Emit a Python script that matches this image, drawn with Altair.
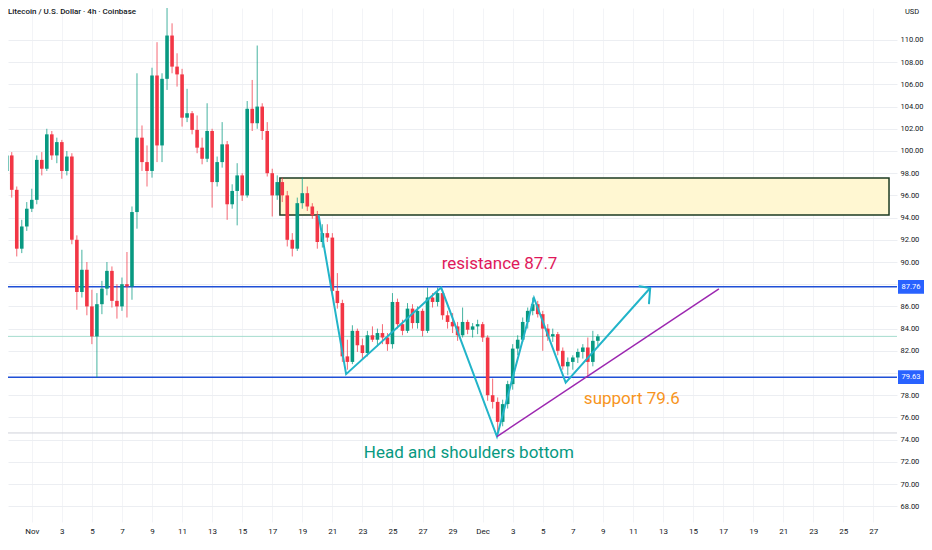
import altair as alt
import pandas as pd
import numpy as np

# ---- candle data (8h candles) ----
opens = [98.2, 99.6, 96.5, 91.2, 93.2, 94.8, 95.6, 99.2, 98.4, 101.5,
         99.6, 100.8, 98.2, 99.5, 92.0, 87.3, 89.3, 86.0, 83.3, 86.2,
         87.6, 89.2, 86.5, 86.0, 88.0, 87.8, 94.5, 101.2, 99.0, 98.2,
         106.8, 100.5, 106.5, 110.4, 107.6, 106.9, 103.0, 103.4, 101.9, 100.3,
         99.3, 101.8, 97.2, 99.0, 100.6, 95.2, 96.4, 97.8, 96.0, 103.8,
         102.5, 104.0, 101.8, 98.0, 96.0, 97.2, 96.0, 92.0, 91.2, 95.3,
         96.2, 95.0, 94.2, 91.8, 92.6, 92.2, 87.4, 86.3, 81.5, 81.0,
         83.8, 82.5, 81.8, 83.4, 83.0, 83.6, 83.2, 82.6, 86.4, 84.4,
         83.8, 85.8, 84.5, 85.6, 83.8, 86.8, 86.4, 87.2, 85.2, 84.6,
         84.2, 83.4, 84.6, 83.9, 84.2, 84.4, 83.2, 78.0, 77.4, 75.6,
         77.2, 79.0, 82.2, 83.0, 84.6, 85.6, 86.2, 85.3, 84.0, 83.3,
         83.5, 82.0, 80.6, 81.0, 81.4, 81.9, 82.3, 81.0, 82.9]
highs = [100.2, 99.9, 96.8, 93.8, 95.4, 96.6, 99.6, 99.9, 102.0, 101.8,
         101.2, 101.0, 100.0, 99.8, 92.4, 91.1, 90.0, 87.5, 87.2, 88.3,
         90.0, 89.6, 88.0, 88.6, 90.9, 95.0, 107.0, 102.3, 100.5, 107.5,
         109.8, 107.0, 113.6, 111.5, 108.8, 107.4, 105.6, 103.6, 103.2, 101.2,
         104.3, 102.0, 99.5, 102.6, 100.9, 97.0, 98.9, 98.0, 104.5, 106.4,
         109.5, 104.3, 102.6, 98.4, 97.8, 97.6, 96.4, 92.6, 95.8, 97.6,
         96.8, 95.3, 94.6, 93.4, 93.4, 92.6, 89.0, 86.6, 83.0, 84.3,
         84.0, 83.1, 83.8, 84.2, 84.0, 84.4, 83.6, 87.2, 86.7, 84.8,
         86.3, 86.2, 86.0, 85.8, 87.7, 87.2, 87.7, 87.5, 85.6, 85.4,
         84.6, 85.9, 84.8, 84.5, 84.8, 84.6, 83.4, 79.5, 77.8, 77.6,
         79.3, 82.6, 83.4, 85.0, 85.9, 86.8, 86.5, 85.6, 84.4, 84.0,
         83.7, 82.3, 81.4, 81.6, 82.2, 82.6, 83.2, 83.8, 83.5]
lows = [97.8, 95.8, 90.5, 90.8, 92.8, 94.5, 95.2, 97.8, 98.2, 99.2,
        98.9, 97.5, 97.8, 91.6, 85.7, 86.8, 85.2, 82.6, 79.6, 85.3,
        87.0, 85.9, 84.9, 85.6, 85.0, 86.6, 93.0, 98.2, 96.8, 97.6,
        99.0, 99.0, 105.5, 107.0, 105.8, 102.2, 102.6, 101.5, 99.8, 98.8,
        99.0, 94.9, 96.8, 98.5, 93.8, 94.8, 93.3, 95.5, 95.8, 101.8,
        102.0, 101.0, 97.7, 94.1, 95.6, 95.4, 91.4, 90.5, 91.0, 94.8,
        94.6, 93.9, 91.2, 91.3, 91.8, 87.0, 85.8, 81.0, 80.3, 80.8,
        81.9, 81.2, 81.5, 82.8, 82.4, 82.6, 82.0, 82.2, 84.0, 83.4,
        83.6, 84.0, 84.0, 83.3, 83.6, 85.9, 86.0, 84.8, 84.0, 83.6,
        82.9, 83.2, 83.5, 83.2, 83.5, 82.8, 77.5, 76.8, 74.4, 75.2,
        76.8, 78.5, 81.6, 82.8, 84.0, 85.2, 85.0, 82.0, 82.9, 82.8,
        81.6, 80.3, 79.8, 80.3, 80.9, 81.3, 79.6, 80.6, 82.3]
closes = [99.6, 96.5, 91.2, 93.2, 94.8, 95.6, 99.2, 98.4, 101.5, 99.6,
          100.8, 98.2, 99.5, 92.0, 87.3, 89.3, 86.0, 83.3, 86.2, 87.6,
          89.2, 86.5, 86.0, 88.0, 87.8, 94.5, 101.2, 99.0, 98.2, 106.8,
          100.5, 106.5, 110.4, 107.6, 106.9, 103.0, 103.4, 101.9, 100.3, 99.3,
          101.8, 97.2, 99.0, 100.6, 95.2, 96.4, 97.8, 96.0, 103.8, 102.5,
          104.0, 101.8, 98.0, 96.0, 97.2, 96.0, 92.0, 91.2, 95.3, 96.2,
          95.0, 94.2, 91.8, 92.6, 92.2, 87.4, 86.3, 81.5, 81.0, 83.8,
          82.5, 81.8, 83.4, 83.0, 83.6, 83.2, 82.6, 86.4, 84.4, 83.8,
          85.8, 84.5, 85.6, 83.8, 86.8, 86.4, 87.2, 85.2, 84.6, 84.2,
          83.4, 84.6, 83.9, 84.2, 84.4, 83.2, 78.0, 77.4, 75.6, 77.2,
          79.0, 82.2, 83.0, 84.6, 85.6, 86.2, 85.3, 84.0, 83.3, 83.5,
          82.0, 80.6, 81.0, 81.4, 81.9, 82.3, 81.0, 82.9, 83.3]

first_candle = "2025-10-30 08:00"
candle_hours = 8

# ---- axis ticks ----
tick_dates = ["2025-11-%02d" % d for d in range(1, 30, 2)] + ["2025-12-%02d" % d for d in range(1, 28, 2)]
tick_labels = ["Nov", "3", "5", "7", "9", "11", "13", "15", "17", "19", "21", "23", "25", "27", "29",
               "Dec", "3", "5", "7", "9", "11", "13", "15", "17", "19", "21", "23", "25", "27"]
price_ticks = list(range(68, 111, 2))
hidden_price_labels = [80, 88]   # covered by the level boxes

# ---- annotations ----
resistance = 87.76
support = 79.63
last_price = 83.3
head_level = 74.6
zone_start, zone_end = "2025-11-17 12:15", "2025-12-28 01:00"
zone_top, zone_bottom = 97.57, 94.23
pattern_times = ["2025-11-20 02:00", "2025-11-21 22:00", "2025-11-28 05:45", "2025-12-01 22:50",
                 "2025-12-04 10:00", "2025-12-06 12:40", "2025-12-12 03:35"]
pattern_prices = [94.23, 79.9, 87.7, 74.28, 86.76, 79.14, 87.66]
arrow_tip_time, arrow_tip_price = "2025-12-12 03:35", 87.66
arrow_arm_times = ["2025-12-11 10:35", "2025-12-12 01:40"]
arrow_arm_prices = [87.82, 86.28]
trend_times = ["2025-12-01 22:50", "2025-12-16 17:20"]
trend_prices = [74.28, 87.57]
notes = ["resistance 87.7", "support 79.6", "Head and shoulders bottom"]
note_times = ["2025-12-02 03:00", "2025-12-10 22:20", "2025-11-30 02:00"]
note_prices = [89.86, 77.70, 72.79]
note_colors = ["#e0185a", "#f7941d", "#089981"]

REF = pd.Timestamp("2025-11-01")
def to_day(s):
    return (pd.Timestamp(s) - REF) / pd.Timedelta(days=1)

t0 = pd.Timestamp(first_candle)
days = [(t0 + pd.Timedelta(hours=candle_hours * i) - REF) / pd.Timedelta(days=1) for i in range(len(opens))]
df = pd.DataFrame({"day": days, "open": opens, "high": highs, "low": lows, "close": closes})
df["dir"] = np.where(df["close"] >= df["open"], "up", "down")

W, H = 889, 514
FONT = "Roboto"
xs = alt.Scale(domain=[-1.25, 57.24], nice=False, zero=False)
ys = alt.Scale(domain=[66.58, 112.88], nice=False, zero=False)
tick_days = [to_day(d) for d in tick_dates]
labels_js = "[" + ",".join("'%s'" % s for s in tick_labels) + "]"
hide_js = " || ".join("datum.value == %d" % v for v in hidden_price_labels)
xaxis = alt.Axis(values=tick_days, labelExpr=labels_js + "[round(datum.value/2)]", orient="bottom",
                 grid=True, gridColor="#f3f4f7", domain=False, ticks=False, labelFont=FONT,
                 labelFontSize=8, labelColor="#131722", labelPadding=5, title=None, labelFlush=False)
yaxis = alt.Axis(values=price_ticks, labelExpr="(" + hide_js + ") ? '' : format(datum.value, '.2f')",
                 orient="right", grid=True, gridColor="#eceef2",
                 domain=False, ticks=False, labelFont=FONT, labelFontSize=7.5, labelColor="#131722",
                 labelPadding=3, title=None)

def X(f):
    return alt.X(f, type="quantitative", scale=xs, axis=xaxis, title=None)

def Y(f):
    return alt.Y(f, type="quantitative", scale=ys, axis=yaxis, title=None)

color = alt.Color("dir:N", scale=alt.Scale(domain=["up", "down"], range=["#089981", "#f23645"]), legend=None)

zone_df = pd.DataFrame({"d1": [to_day(zone_start)], "d2": [to_day(zone_end)], "p1": [zone_top], "p2": [zone_bottom]})
zone = alt.Chart(zone_df).mark_rect(fill="#fff7d2", stroke="#1d3b22", strokeWidth=1.5, clip=True).encode(
    x=X("d1"), x2="d2", y=Y("p1"), y2="p2")

hl_df = pd.DataFrame({"price": [head_level]})
head_line = alt.Chart(hl_df).mark_rule(color="#cfd2d9", strokeWidth=1).encode(y=Y("price"))
lp_df = pd.DataFrame({"price": [last_price]})
last_line = alt.Chart(lp_df).mark_rule(color="#a6dccf", strokeWidth=1).encode(y=Y("price"))

lv_df = pd.DataFrame({"price": [resistance, support], "label": ["%.2f" % resistance, "%.2f" % support]})
lv_df["lo"] = lv_df["price"] - 0.62
lv_df["hi"] = lv_df["price"] + 0.62
levels = alt.Chart(lv_df).mark_rule(color="#1f4fd6", strokeWidth=1.5).encode(y=Y("price"))
boxes = alt.Chart(lv_df).mark_rect(color="#2962ff").encode(
    x=alt.value(W + 1), x2=alt.value(W + 27), y=Y("lo"), y2="hi")
box_text = alt.Chart(lv_df).mark_text(color="white", font=FONT, fontSize=7.5, align="center", baseline="middle").encode(
    x=alt.value(W + 14), y=Y("price"), text="label:N")

wicks = alt.Chart(df).mark_rule(strokeWidth=1, opacity=0.75, clip=True).encode(
    x=X("day"), y=Y("low"), y2="high", color=color)
bodies = alt.Chart(df).mark_bar(size=3.6, clip=True).encode(
    x=X("day"), y=Y("open"), y2="close", color=color)

pat_df = pd.DataFrame({"day": [to_day(t) for t in pattern_times], "price": pattern_prices, "idx": range(len(pattern_times))})
pattern = alt.Chart(pat_df).mark_line(color="#22b4c9", strokeWidth=2, clip=True).encode(
    x=X("day"), y=Y("price"), order="idx:Q")
arr_df = pd.DataFrame({"d1": [to_day(arrow_tip_time)] * 2, "p1": [arrow_tip_price] * 2,
                       "d2": [to_day(t) for t in arrow_arm_times], "p2": arrow_arm_prices})
arrow = alt.Chart(arr_df).mark_rule(color="#22b4c9", strokeWidth=2, strokeCap="round").encode(
    x=X("d1"), x2="d2", y=Y("p1"), y2="p2")
tr_df = pd.DataFrame({"day": [to_day(t) for t in trend_times], "price": trend_prices})
trend = alt.Chart(tr_df).mark_line(color="#9c27b0", strokeWidth=1.5).encode(x=X("day"), y=Y("price"))

note_df = pd.DataFrame({"day": [to_day(t) for t in note_times], "price": note_prices, "text": notes, "col": note_colors})
note_text = alt.Chart(note_df).mark_text(font=FONT, fontSize=17, align="center", baseline="middle").encode(
    x=X("day"), y=Y("price"), text="text:N", color=alt.Color("col:N", scale=None))

title_df = pd.DataFrame({"t": ["Litecoin / U.S. Dollar \u00b7 4h \u00b7 Coinbase"]})
title = alt.Chart(title_df).mark_text(font=FONT, fontSize=8, fontWeight=500, color="#131722",
                                      align="left", baseline="middle").encode(
    x=alt.value(0), y=alt.value(4), text="t:N")
usd_df = pd.DataFrame({"t": ["USD"]})
usd = alt.Chart(usd_df).mark_text(font=FONT, fontSize=7.5, color="#131722", align="left", baseline="middle").encode(
    x=alt.value(W + 8), y=alt.value(4), text="t:N")

chart = alt.layer(zone, head_line, last_line, levels, wicks, bodies, pattern, arrow, trend,
                  note_text, boxes, box_text, title, usd).properties(
    width=W, height=H, background="white",
    autosize=alt.AutoSizeParams(type="none"),
    padding={"left": 0, "top": 0, "right": 27, "bottom": 20}).configure_view(stroke=None)

chart.save("out.html", embed_options={"renderer": "svg", "actions": False})
